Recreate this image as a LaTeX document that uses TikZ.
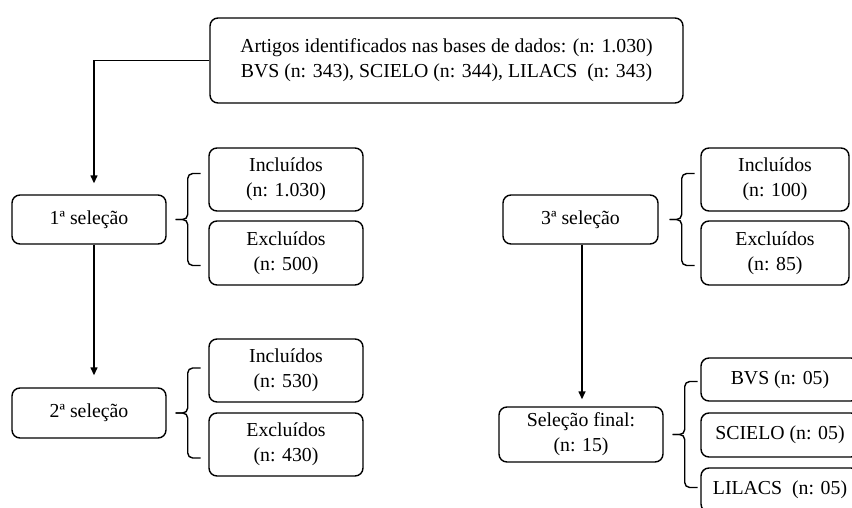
\documentclass[tikz,border=0pt]{standalone}
\usepackage{fontspec}
\setmainfont{Liberation Serif}
\usetikzlibrary{arrows.meta}
\tikzset{
  box/.style={draw, rounded corners=8pt, line width=1.4pt, align=center, inner sep=0pt,
    font=\fontsize{19.8}{25}\selectfont},
  conn/.style={line width=1.4pt},
  arr/.style={conn, -{Triangle[length=8pt,width=7pt]}},
  bracestyle/.style={line width=1.4pt, rounded corners=5pt}
}
\newcommand\mybrace[3]{%
  \path ([xshift=#3]#1.east) coordinate (#1tip) ++(12,0) coordinate (#1v);
  \draw[bracestyle] (#1tip) -- (#1v) -- ++(0,-#2) -- ++(13,0);
  \draw[bracestyle] (#1tip) -- (#1v) -- ++(0,#2) -- ++(13,0);
}
\begin{document}
\begin{tikzpicture}[x=1pt,y=-1pt]
\useasboundingbox (0,0) rectangle (852,507);
\clip (0,0) rectangle (852,507);
\node[box, minimum width=473pt, minimum height=85pt] (top) at (446.5,60.5)
  {Artigos identificados nas bases de dados: (n: 1.030)\\BVS (n: 343), SCIELO (n: 344), LILACS\ \ (n: 343)};
\node[box, minimum width=154pt, minimum height=49pt] (s1) at (89,219.5) {1ª seleção};
\node[box, minimum width=154pt, minimum height=63pt] (i1) at (286,179.5) {Incluídos\\(n: 1.030)};
\node[box, minimum width=154pt, minimum height=64pt] (e1) at (286,253) {Excluídos\\(n: 500)};
\node[box, minimum width=154pt, minimum height=50pt] (s2) at (89,413) {2ª seleção};
\node[box, minimum width=154pt, minimum height=63pt] (i2) at (286,370.5) {Incluídos\\(n: 530)};
\node[box, minimum width=154pt, minimum height=63pt] (e2) at (286,444.5) {Excluídos\\(n: 430)};
\node[box, minimum width=155pt, minimum height=49pt] (s3) at (580.5,219.5) {3ª seleção};
\node[box, minimum width=148pt, minimum height=63pt] (i3) at (775,179.5) {Incluídos\\(n: 100)};
\node[box, minimum width=148pt, minimum height=64pt] (e3) at (775,253) {Excluídos\\(n: 85)};
\node[box, minimum width=164pt, minimum height=55pt] (sf) at (581,434.5) {Seleção final:\\(n: 15)};
\node[box, minimum width=158pt, minimum height=43pt] (bvs) at (780,379.5) {BVS (n: 05)};
\node[box, minimum width=158pt, minimum height=44pt] (sci) at (780,435) {SCIELO\ (n: 05)};
\node[box, minimum width=158pt, minimum height=44pt] (lil) at (780,490) {LILACS\ \ (n: 05)};
\draw[arr, shorten >=11pt] (top.west) -| ([xshift=5pt]s1.north);
\draw[arr, shorten >=12pt] ([xshift=5pt]s1.south) -- ([xshift=5pt]s2.north);
\draw[arr, shorten >=7pt] ([xshift=1.5pt]s3.south) -- ([xshift=1pt]sf.north);
\mybrace{s1}{46}{9pt}
\mybrace{s2}{45}{9pt}
\mybrace{s3}{46}{11pt}
\mybrace{sf}{53}{9pt}
\end{tikzpicture}
\end{document}
